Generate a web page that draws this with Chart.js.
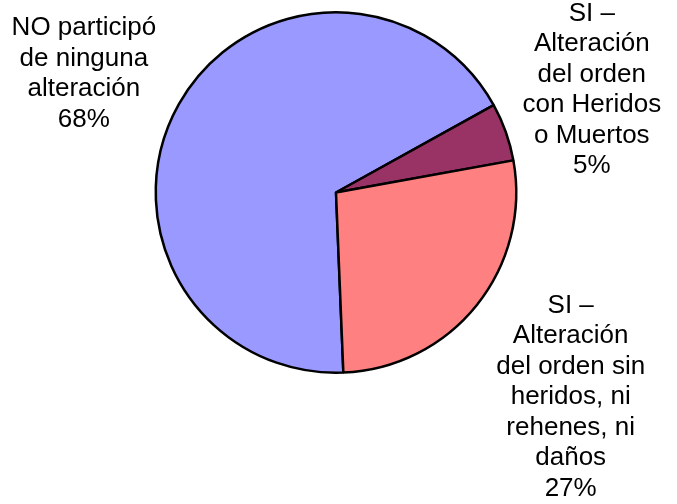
<!DOCTYPE html>
<html lang="es">
<head>
  <meta charset="UTF-8">
  <title>Participación en alteraciones</title>
  <script src="https://cdn.jsdelivr.net/npm/chart.js"></script>
  <style>
    html, body { margin: 0; padding: 0; background: #fff; }
    .chart-container { width: 677px; height: 504px; }
  </style>
</head>
<body>
  <div class="chart-container">
    <canvas id="pieChart" width="677" height="504"></canvas>
  </div>

  <script>
    // categorías (una línea por renglón de la etiqueta)
    const categorias = [
      ['NO participó', 'de ninguna', 'alteración'],
      ['SI –', 'Alteración', 'del orden', 'con Heridos', 'o Muertos'],
      ['SI –', 'Alteración', 'del orden sin', 'heridos, ni', 'rehenes, ni', 'daños']
    ];
    const valores = [67.6, 5.2, 27.2];
    const colores = ['#9999FF', '#993366', '#FF8080'];

    // desplazamiento de cada etiqueta desde el borde exterior del sector
    const desplazEtiquetas = [[-95, -32], [86, -44], [94, 90]];

    const etiquetasPlugin = {
      id: 'etiquetas',
      afterDatasetsDraw(chart) {
        const ctx = chart.ctx;
        const arcs = chart.getDatasetMeta(0).data;
        const lh = 30.5;
        ctx.save();
        ctx.font = '26px "Liberation Sans", Arial, sans-serif';
        ctx.fillStyle = '#000';
        ctx.textAlign = 'center';
        ctx.textBaseline = 'alphabetic';
        arcs.forEach((arc, i) => {
          const mid = (arc.startAngle + arc.endAngle) / 2;
          const ox = arc.x + Math.cos(mid) * arc.outerRadius;
          const oy = arc.y + Math.sin(mid) * arc.outerRadius;
          const cx = ox + desplazEtiquetas[i][0];
          const cy = oy + desplazEtiquetas[i][1];
          const lineas = categorias[i].concat([Math.round(valores[i]) + '%']);
          const y0 = cy - (lineas.length - 1) * lh / 2 + 9;
          lineas.forEach((t, k) => ctx.fillText(t, cx, y0 + k * lh));
        });
        ctx.restore();
      }
    };

    new Chart(document.getElementById('pieChart'), {
      type: 'pie',
      data: {
        labels: categorias.map(l => l.join(' ')),
        datasets: [{
          data: valores,
          backgroundColor: colores,
          borderColor: '#000',
          borderWidth: 2.5
        }]
      },
      options: {
        responsive: false,
        animation: false,
        rotation: 177.66,
        layout: { padding: { left: 100, right: 105, top: 11, bottom: 130 } },
        plugins: {
          legend: { display: false },
          tooltip: { enabled: false }
        }
      },
      plugins: [etiquetasPlugin]
    });
  </script>
</body>
</html>
